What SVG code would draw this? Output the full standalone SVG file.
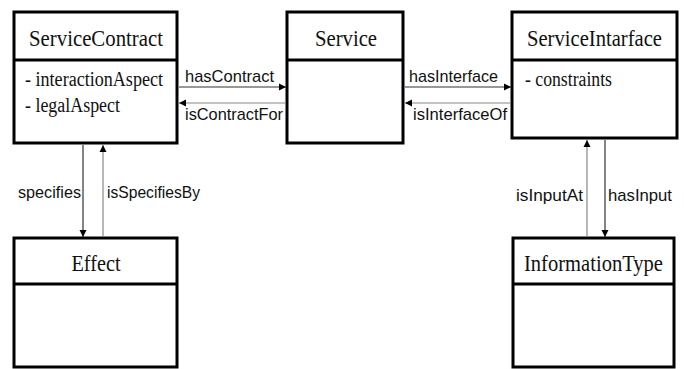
<svg xmlns="http://www.w3.org/2000/svg" width="684" height="369" viewBox="0 0 684 369">
  <style>
    .box { fill: #ffffff; stroke: #000000; stroke-width: 3; }
    .div { stroke: #000000; stroke-width: 3; }
    .title { font-family: "Liberation Serif", "Times New Roman", serif; font-size: 23px; fill: #111; text-anchor: middle; }
    .attr { font-family: "Liberation Serif", "Times New Roman", serif; font-size: 20px; fill: #111; }
    .lbl { font-family: "Liberation Sans", Arial, sans-serif; font-size: 17px; fill: #111; }
    .dark { stroke: #333; stroke-width: 1.2; fill: none; }
    .light { stroke: #888; stroke-width: 1.2; fill: none; }
  </style>
  <defs>
    <marker id="arrow" markerWidth="8" markerHeight="8" refX="7" refY="4" orient="auto" markerUnits="userSpaceOnUse">
      <path d="M0,0.5 L7,4 L0,7.5 Z" fill="#000"/>
    </marker>
  </defs>
  <rect width="684" height="369" fill="#ffffff"/>

  <g id="ServiceContract">
    <rect class="box" x="14" y="12" width="163" height="131"/>
    <line class="div" x1="14" y1="60" x2="177" y2="60"/>
    <text class="title" x="96" y="46" textLength="134" lengthAdjust="spacingAndGlyphs">ServiceContract</text>
    <text class="attr" x="25" y="86" textLength="138" lengthAdjust="spacingAndGlyphs">- interactionAspect</text>
    <text class="attr" x="25" y="112" textLength="95" lengthAdjust="spacingAndGlyphs">- legalAspect</text>
  </g>

  <g id="Service">
    <rect class="box" x="287" y="12" width="116" height="131"/>
    <line class="div" x1="287" y1="60" x2="403" y2="60"/>
    <text class="title" x="346" y="46" textLength="62" lengthAdjust="spacingAndGlyphs">Service</text>
  </g>

  <g id="ServiceIntarface">
    <rect class="box" x="512" y="12" width="165" height="126"/>
    <line class="div" x1="512" y1="60" x2="677" y2="60"/>
    <text class="title" x="594.5" y="46" textLength="135" lengthAdjust="spacingAndGlyphs">ServiceIntarface</text>
    <text class="attr" x="525" y="86" textLength="87" lengthAdjust="spacingAndGlyphs">- constraints</text>
  </g>

  <g id="Effect">
    <rect class="box" x="14" y="238" width="163" height="129"/>
    <line class="div" x1="14" y1="284" x2="177" y2="284"/>
    <text class="title" x="96" y="271" textLength="49" lengthAdjust="spacingAndGlyphs">Effect</text>
  </g>

  <g id="InformationType">
    <rect class="box" x="513" y="238" width="161" height="129"/>
    <line class="div" x1="513" y1="284" x2="674" y2="284"/>
    <text class="title" x="593.5" y="271" textLength="139" lengthAdjust="spacingAndGlyphs">InformationType</text>
  </g>

  <g id="connectors">
    <line class="dark" x1="179" y1="87" x2="286" y2="87" marker-end="url(#arrow)"/>
    <line class="light" x1="286" y1="103" x2="179" y2="103" marker-end="url(#arrow)"/>
    <line class="dark" x1="405" y1="87" x2="511" y2="87" marker-end="url(#arrow)"/>
    <line class="light" x1="511" y1="103" x2="405" y2="103" marker-end="url(#arrow)"/>
    <line class="dark" x1="83" y1="145" x2="83" y2="237" marker-end="url(#arrow)"/>
    <line class="light" x1="103" y1="237" x2="103" y2="145" marker-end="url(#arrow)"/>
    <line class="light" x1="587" y1="237" x2="587" y2="140" marker-end="url(#arrow)"/>
    <line class="dark" x1="605" y1="140" x2="605" y2="237" marker-end="url(#arrow)"/>

    <text class="lbl" x="185" y="82" textLength="89" lengthAdjust="spacingAndGlyphs">hasContract</text>
    <text class="lbl" x="185" y="120" textLength="98" lengthAdjust="spacingAndGlyphs">isContractFor</text>
    <text class="lbl" x="409" y="82" textLength="89" lengthAdjust="spacingAndGlyphs">hasInterface</text>
    <text class="lbl" x="413" y="120" textLength="94" lengthAdjust="spacingAndGlyphs">isInterfaceOf</text>
    <text class="lbl" x="18" y="198" textLength="63" lengthAdjust="spacingAndGlyphs">specifies</text>
    <text class="lbl" x="107" y="198" textLength="93" lengthAdjust="spacingAndGlyphs">isSpecifiesBy</text>
    <text class="lbl" x="516" y="201" textLength="67" lengthAdjust="spacingAndGlyphs">isInputAt</text>
    <text class="lbl" x="608" y="201" textLength="64" lengthAdjust="spacingAndGlyphs">hasInput</text>
  </g>
</svg>
